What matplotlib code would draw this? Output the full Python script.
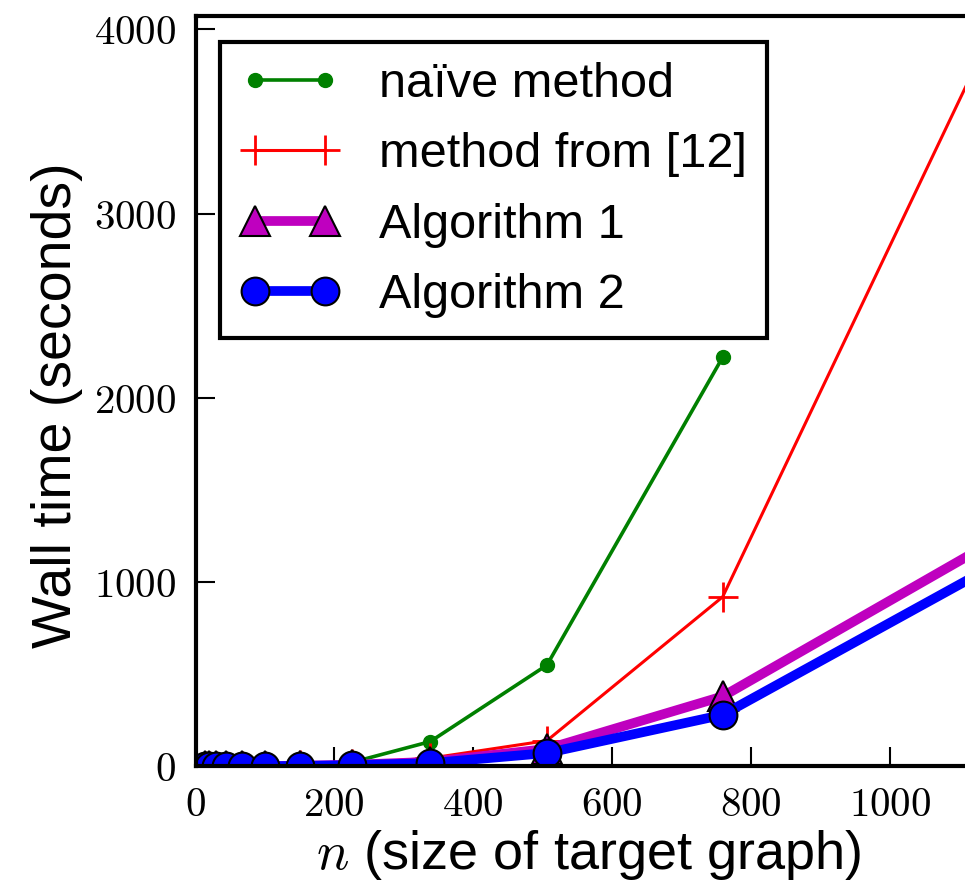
# load libraries
import matplotlib
matplotlib.use('Agg')
import matplotlib.pyplot as plt
from matplotlib.ticker import FuncFormatter

plt.rcParams['font.family'] = ['Liberation Sans', 'DejaVu Sans']
plt.rcParams['mathtext.fontset'] = 'cm'

# size of target graph
n_all = [13, 20, 30, 44, 67, 100, 150, 225, 338, 506, 759, 1139]
n_naive = [13, 20, 30, 44, 67, 100, 150, 225, 338, 506, 759]

# wall time in seconds
t_naive = [0.05, 0.1, 0.3, 0.8, 2, 5, 12, 22, 135, 550, 2220]
t_ref12 = [0.05, 0.1, 0.2, 0.5, 1, 3, 7, 15, 45, 140, 920, 3925]
t_alg1 = [0.02, 0.05, 0.1, 0.3, 0.7, 1.5, 4, 9, 25, 95, 380, 1200]
t_alg2 = [0.02, 0.04, 0.1, 0.2, 0.5, 1.2, 3, 7, 18, 73, 280, 1068]

labels = ['na\u00efve method', 'method from [12]', 'Algorithm 1', 'Algorithm 2']
xticks = [0, 200, 400, 600, 800, 1000]
yticks = [0, 1000, 2000, 3000, 4000]

xmax = 1132
fig = plt.figure(figsize=(9.65, 8.82), dpi=100)
# axes runs a little past the right edge of the figure (cropped like the original)
ax = fig.add_axes([0.2026, 0.1310, xmax * 0.6945 / 965, 0.8509])

ax.plot(n_naive, t_naive, 'g-', marker='o', lw=2.6, ms=10, mec='g', label=labels[0])
ax.plot(n_all, t_ref12, 'r-', marker='+', lw=2.2, ms=22, mew=2, label=labels[1])
ax.plot(n_all, t_alg1, '-', color='m', marker='^', lw=7, ms=21, mec='k', mew=1.5, label=labels[2])
ax.plot(n_all, t_alg2, '-', color='b', marker='o', lw=7, ms=20, mec='k', mew=1.5, label=labels[3])

ax.set_xlim(0, xmax)
ax.set_ylim(0, 4072)
ax.set_xticks(xticks)
ax.set_yticks(yticks)
fmt = FuncFormatter(lambda v, p: '$%d$' % v)
ax.xaxis.set_major_formatter(fmt)
ax.yaxis.set_major_formatter(fmt)
ax.tick_params(direction='in', length=14, width=1.5, labelsize=29.5, pad=14,
               top=False, right=False)

for s in ax.spines.values():
  s.set_linewidth(3)

ax.set_xlabel(r'$n$ (size of target graph)', fontsize=39, labelpad=3)
ax.set_ylabel('Wall time (seconds)', fontsize=40)
ax.yaxis.set_label_coords(-0.1434, 0.482)

leg = ax.legend(loc='upper left', bbox_to_anchor=(24.5 / (xmax * 0.6945), 0.965),
                fontsize=35, numpoints=2, handlelength=2.04, handletextpad=0.82,
                labelspacing=0.52, borderpad=0.41, borderaxespad=0,
                fancybox=False, framealpha=1)
leg.get_frame().set_edgecolor('k')
leg.get_frame().set_linewidth(3)

fig.savefig('out.png', dpi=100)
